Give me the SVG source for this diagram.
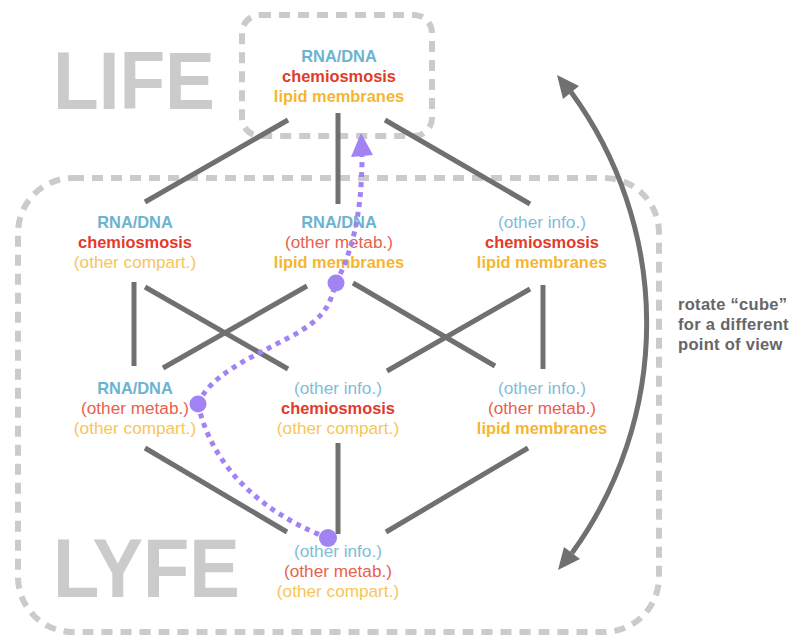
<svg xmlns="http://www.w3.org/2000/svg" width="792" height="635" viewBox="0 0 792 635">
<style>
.box{fill:none;stroke:#cbcbcb;stroke-width:6;stroke-dasharray:11 8}
.big{font-family:"Liberation Sans",Arial,sans-serif;font-weight:700;fill:#cbcbcb}
.edge{stroke:#707070;stroke-width:5;fill:none}
text.n{font-family:"Liberation Sans",Arial,sans-serif;text-anchor:middle}
.b{font-weight:700;font-size:16.4px}
.r{font-weight:400;font-size:17.2px}
.bl{fill:#6db3d0}.blr{fill:#7fbdd8}
.rd{fill:#e23b2b}.rdr{fill:#e9604f}
.yl{fill:#f5b630}.ylr{fill:#f7c659}
.path{stroke:#a183f3;stroke-width:5;fill:none;stroke-dasharray:5 5}
.dot{fill:#a183f3}
.note{font-family:"Liberation Sans",Arial,sans-serif;font-weight:700;font-size:16.5px;fill:#666;letter-spacing:0.3px}
</style>
<g id="frames">
<rect class="box" x="242" y="15" width="190" height="121" rx="18"/>
<rect class="box" x="18" y="178" width="641" height="454" rx="55"/>
<text class="big" x="53" y="109" font-size="81" textLength="162" lengthAdjust="spacingAndGlyphs">LIFE</text>
<text class="big" x="53" y="597" font-size="83" textLength="187" lengthAdjust="spacingAndGlyphs">LYFE</text>
</g>
<g id="connectors">
<line class="edge" x1="288" y1="120" x2="145" y2="202"/>
<line class="edge" x1="338" y1="113" x2="338" y2="204"/>
<line class="edge" x1="385" y1="120" x2="530" y2="204"/>
<line class="edge" x1="134" y1="282" x2="134" y2="366"/>
<line class="edge" x1="145" y1="287" x2="288" y2="369"/>
<line class="edge" x1="307" y1="286" x2="163" y2="368"/>
<line class="edge" x1="353" y1="283" x2="495" y2="366"/>
<line class="edge" x1="530" y1="289" x2="387" y2="371"/>
<line class="edge" x1="543" y1="285" x2="543" y2="369"/>
<line class="edge" x1="145" y1="448" x2="287" y2="532"/>
<line class="edge" x1="338" y1="443" x2="338" y2="534"/>
<line class="edge" x1="528" y1="448" x2="386" y2="532"/>
</g>
<g id="node-top">
<text class="n b bl" x="339" y="62">RNA/DNA</text>
<text class="n b rd" x="339" y="82">chemiosmosis</text>
<text class="n b yl" x="339" y="102">lipid membranes</text>
</g>
<g id="node-2a">
<text class="n b bl" x="135" y="228">RNA/DNA</text>
<text class="n b rd" x="135" y="248">chemiosmosis</text>
<text class="n r ylr" x="135" y="268">(other compart.)</text>
</g>
<g id="node-2b">
<text class="n b bl" x="339" y="228">RNA/DNA</text>
<text class="n r rdr" x="339" y="248">(other metab.)</text>
<text class="n b yl" x="339" y="268">lipid membranes</text>
</g>
<g id="node-2c">
<text class="n r blr" x="542" y="228">(other info.)</text>
<text class="n b rd" x="542" y="248">chemiosmosis</text>
<text class="n b yl" x="542" y="268">lipid membranes</text>
</g>
<g id="node-3a">
<text class="n b bl" x="135" y="394">RNA/DNA</text>
<text class="n r rdr" x="135" y="414">(other metab.)</text>
<text class="n r ylr" x="135" y="434">(other compart.)</text>
</g>
<g id="node-3b">
<text class="n r blr" x="338" y="394">(other info.)</text>
<text class="n b rd" x="338" y="414">chemiosmosis</text>
<text class="n r ylr" x="338" y="434">(other compart.)</text>
</g>
<g id="node-3c">
<text class="n r blr" x="542" y="394">(other info.)</text>
<text class="n r rdr" x="542" y="414">(other metab.)</text>
<text class="n b yl" x="542" y="434">lipid membranes</text>
</g>
<g id="node-bottom">
<text class="n r blr" x="338" y="557">(other info.)</text>
<text class="n r rdr" x="338" y="577">(other metab.)</text>
<text class="n r ylr" x="338" y="597">(other compart.)</text>
</g>
<g id="path">
<path class="path" d="M328,538 C280,520 215,480 198,404"/>
<path class="path" d="M198,404 C210,375 250,358 290,337 S330,300 336,283"/>
<path class="path" d="M336,283 C350,255 362,220 362,156"/>
<polygon class="dot" points="361,133 351,157 373,155"/>
<circle class="dot" cx="328" cy="538" r="9"/>
<circle class="dot" cx="198" cy="404" r="8.5"/>
<circle class="dot" cx="336" cy="283" r="8.5"/>
</g>
<g id="rotate">
<path class="edge" d="M571,92 A391,391 0 0 1 572,553"/>
<polygon points="557,75 579,86 563,99" fill="#707070"/>
<polygon points="558,570 580,559 564,547" fill="#707070"/>
<text class="note" x="678" y="310">rotate “cube”</text>
<text class="note" x="678" y="330">for a different</text>
<text class="note" x="678" y="350">point of view</text>
</g>
</svg>
